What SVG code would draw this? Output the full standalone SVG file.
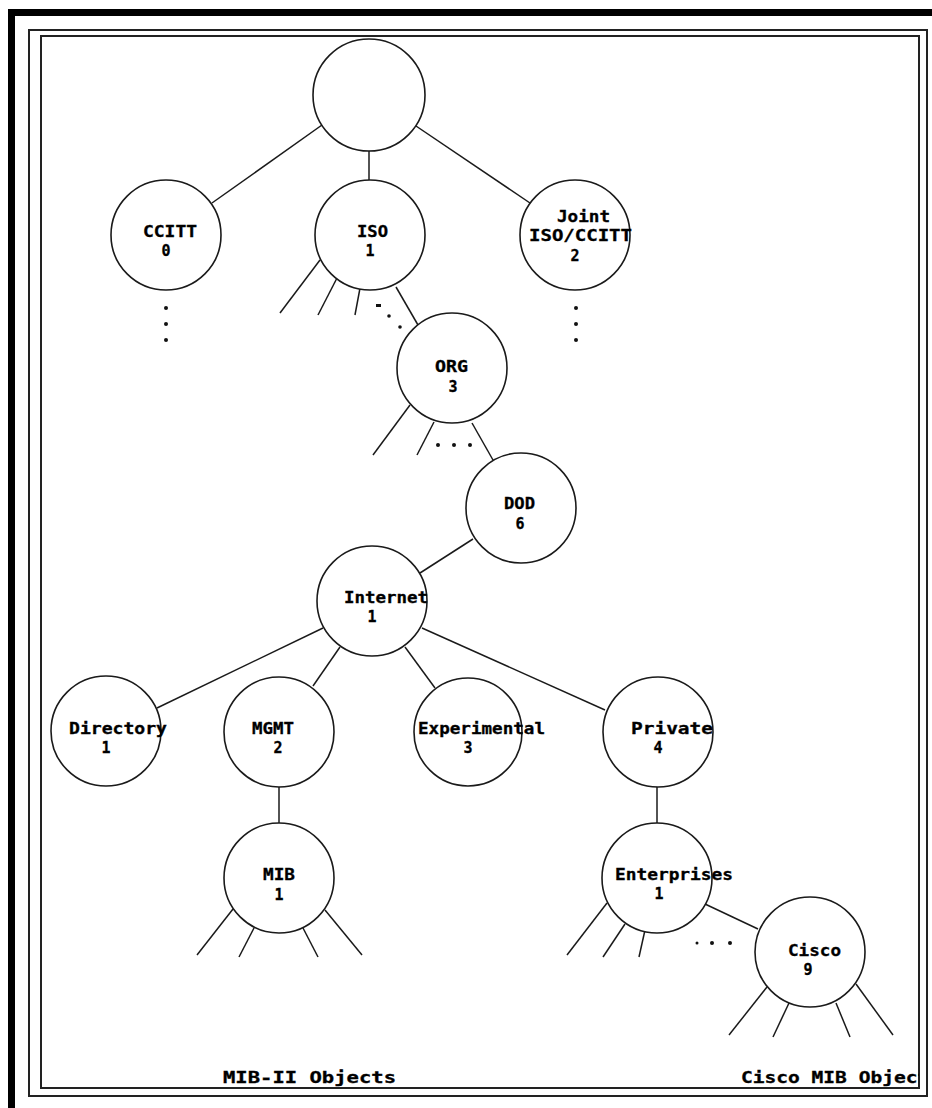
<svg xmlns="http://www.w3.org/2000/svg" width="932" height="1108" viewBox="0 0 932 1108">
<style>
.n{fill:#fff;stroke:#1a1a1a;stroke-width:1.6}
.e{stroke:#1a1a1a;stroke-width:1.5;fill:none}
.t{font-family:"DejaVu Sans Mono","Liberation Mono",monospace;font-weight:bold;font-size:15px;fill:#000;stroke:#000;stroke-width:0.3}
.d{fill:#111}
.f{fill:none;stroke:#222;stroke-width:2}
</style>
<defs>
<clipPath id="inner"><rect x="41" y="36" width="878" height="1052"/></clipPath>
</defs>
<rect width="932" height="1108" fill="#fff"/>
<g id="frame">
<rect x="8" y="9" width="924" height="7" fill="#000"/>
<rect x="8" y="9" width="7" height="1099" fill="#000"/>
<rect class="f" x="29" y="30" width="898" height="1066"/>
<rect class="f" x="41" y="36" width="878" height="1052"/>
</g>
<g id="connectors">
<line class="e" x1="322" y1="125" x2="212" y2="203"/>
<line class="e" x1="369" y1="151" x2="369" y2="180"/>
<line class="e" x1="416" y1="126" x2="530" y2="203"/>
<line class="e" x1="320" y1="260" x2="280" y2="313"/>
<line class="e" x1="337" y1="278" x2="318" y2="315"/>
<line class="e" x1="360" y1="288" x2="355" y2="315"/>
<line class="e" x1="396" y1="287" x2="418" y2="325"/>
<line class="e" x1="410" y1="405" x2="373" y2="455"/>
<line class="e" x1="434" y1="422" x2="417" y2="455"/>
<line class="e" x1="472" y1="423" x2="493" y2="460"/>
<line class="e" x1="473" y1="539" x2="420" y2="573"/>
<line class="e" x1="323" y1="628" x2="157" y2="708"/>
<line class="e" x1="340" y1="647" x2="313" y2="686"/>
<line class="e" x1="405" y1="647" x2="435" y2="688"/>
<line class="e" x1="422" y1="628" x2="605" y2="710"/>
<line class="e" x1="279" y1="785" x2="279" y2="823"/>
<line class="e" x1="233" y1="909" x2="197" y2="955"/>
<line class="e" x1="254" y1="928" x2="239" y2="957"/>
<line class="e" x1="303" y1="928" x2="318" y2="957"/>
<line class="e" x1="325" y1="910" x2="362" y2="955"/>
<line class="e" x1="657" y1="785" x2="657" y2="823"/>
<line class="e" x1="607" y1="903" x2="567" y2="955"/>
<line class="e" x1="625" y1="924" x2="603" y2="957"/>
<line class="e" x1="645" y1="930" x2="639" y2="957"/>
<line class="e" x1="705" y1="904" x2="758" y2="929"/>
<line class="e" x1="767" y1="987" x2="729" y2="1035"/>
<line class="e" x1="789" y1="1003" x2="773" y2="1037"/>
<line class="e" x1="836" y1="1003" x2="850" y2="1037"/>
<line class="e" x1="856" y1="984" x2="893" y2="1035"/>
</g>
<g id="ellipses">
<circle class="d" cx="166" cy="308" r="2"/><circle class="d" cx="166" cy="324" r="2"/><circle class="d" cx="166" cy="340" r="2"/>
<circle class="d" cx="576" cy="308" r="2"/><circle class="d" cx="576" cy="324" r="2"/><circle class="d" cx="576" cy="340" r="2"/>
<rect class="d" x="376" y="304" width="5" height="3"/><circle class="d" cx="389" cy="316" r="1.8"/><circle class="d" cx="400" cy="327" r="1.8"/>
<circle class="d" cx="438" cy="445" r="2"/><circle class="d" cx="454" cy="445" r="2"/><circle class="d" cx="470" cy="445" r="2"/>
<circle class="d" cx="697" cy="943" r="1.5"/><circle class="d" cx="712" cy="943" r="2"/><circle class="d" cx="730" cy="943" r="2"/>
</g>
<g id="root"><circle class="n" cx="369" cy="95" r="56"/></g>
<g id="ccitt"><circle class="n" cx="166" cy="235" r="55"/>
<text class="t" x="143" y="237" textLength="54" lengthAdjust="spacingAndGlyphs">CCITT</text>
<text class="t" x="166" y="256" text-anchor="middle">0</text></g>
<g id="iso"><circle class="n" cx="370" cy="235" r="55"/>
<text class="t" x="357" y="237" textLength="31" lengthAdjust="spacingAndGlyphs">ISO</text>
<text class="t" x="370" y="256" text-anchor="middle">1</text></g>
<g id="joint"><circle class="n" cx="575" cy="235" r="55"/>
<text class="t" x="557" y="222" textLength="53" lengthAdjust="spacingAndGlyphs">Joint</text>
<text class="t" x="529" y="241" textLength="103" lengthAdjust="spacingAndGlyphs">ISO/CCITT</text>
<text class="t" x="575" y="261" text-anchor="middle">2</text></g>
<g id="org"><circle class="n" cx="452" cy="368" r="55"/>
<text class="t" x="435" y="372" textLength="33" lengthAdjust="spacingAndGlyphs">ORG</text>
<text class="t" x="453" y="392" text-anchor="middle">3</text></g>
<g id="dod"><circle class="n" cx="521" cy="508" r="55"/>
<text class="t" x="504" y="509" textLength="31" lengthAdjust="spacingAndGlyphs">DOD</text>
<text class="t" x="520" y="529" text-anchor="middle">6</text></g>
<g id="internet"><circle class="n" cx="372" cy="601" r="55"/>
<text class="t" x="344" y="603" textLength="84" lengthAdjust="spacingAndGlyphs">Internet</text>
<text class="t" x="372" y="622" text-anchor="middle">1</text></g>
<g id="directory"><circle class="n" cx="106" cy="731" r="55"/>
<text class="t" x="69" y="734" textLength="98" lengthAdjust="spacingAndGlyphs">Directory</text>
<text class="t" x="106" y="753" text-anchor="middle">1</text></g>
<g id="mgmt"><circle class="n" cx="279" cy="732" r="55"/>
<text class="t" x="252" y="734" textLength="42" lengthAdjust="spacingAndGlyphs">MGMT</text>
<text class="t" x="278" y="753" text-anchor="middle">2</text></g>
<g id="experimental"><circle class="n" cx="468" cy="732" r="54"/>
<text class="t" x="418" y="734" textLength="127" lengthAdjust="spacingAndGlyphs">Experimental</text>
<text class="t" x="468" y="753" text-anchor="middle">3</text></g>
<g id="private"><circle class="n" cx="658" cy="732" r="55"/>
<text class="t" x="631" y="734" textLength="82" lengthAdjust="spacingAndGlyphs">Private</text>
<text class="t" x="658" y="753" text-anchor="middle">4</text></g>
<g id="mib"><circle class="n" cx="279" cy="878" r="55"/>
<text class="t" x="263" y="880" textLength="32" lengthAdjust="spacingAndGlyphs">MIB</text>
<text class="t" x="279" y="900" text-anchor="middle">1</text></g>
<g id="enterprises"><circle class="n" cx="657" cy="878" r="55"/>
<text class="t" x="615" y="880" textLength="118" lengthAdjust="spacingAndGlyphs">Enterprises</text>
<text class="t" x="659" y="899" text-anchor="middle">1</text></g>
<g id="cisco"><circle class="n" cx="810" cy="952" r="55"/>
<text class="t" x="788" y="956" textLength="53" lengthAdjust="spacingAndGlyphs">Cisco</text>
<text class="t" x="808" y="975" text-anchor="middle">9</text></g>
<g id="labels" clip-path="url(#inner)">
<text class="t" x="223" y="1083" textLength="173" lengthAdjust="spacingAndGlyphs">MIB-II Objects</text>
<text class="t" x="741" y="1083" textLength="200" lengthAdjust="spacingAndGlyphs">Cisco MIB Objects</text>
</g>
</svg>
